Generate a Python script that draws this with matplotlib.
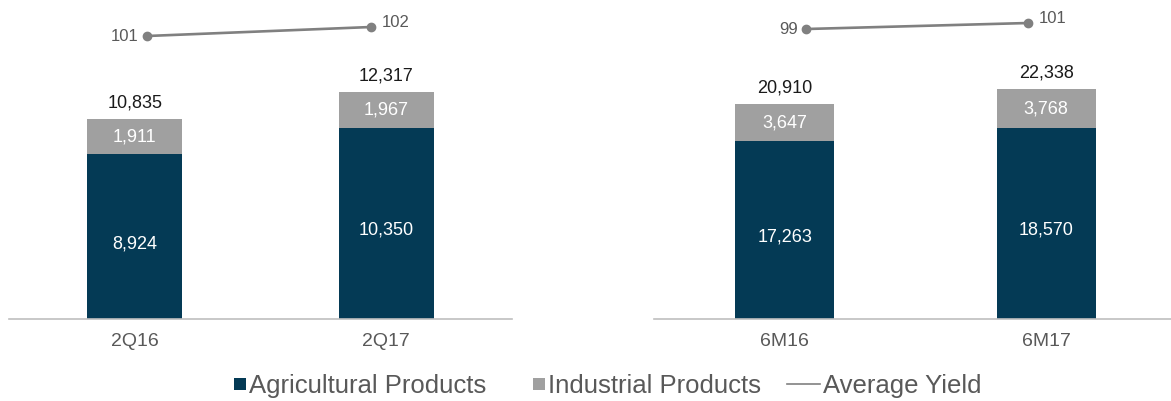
import numpy as np
import matplotlib.pyplot as plt
from matplotlib.patches import Patch, Rectangle
from matplotlib.lines import Line2D
from matplotlib.legend_handler import HandlerPatch

plt.rcParams['font.family'] = ['Liberation Sans', 'DejaVu Sans']

# data
quarters = ['2Q16', '2Q17']
agri_q = [8924, 10350]
indus_q = [1911, 1967]
yield_q = [101, 102]

halves = ['6M16', '6M17']
agri_h = [17263, 18570]
indus_h = [3647, 3768]
yield_h = [99, 101]

NAVY = '#043A55'
GREY = '#A0A0A0'
LINE = '#808080'
TXT = '#595959'

W, H = 1171, 401
fig = plt.figure(figsize=(W / 100, H / 100), dpi=100)


def panel(left, width, cats, agri, indus, yld, ymax, ylim2, xlim2):
    rect = [left / W, 82 / H, width / W, 319 / H]
    ax = fig.add_axes(rect)
    x = np.arange(len(cats))
    bw = 0.377
    ax.bar(x, agri, width=bw, color=NAVY, zorder=2)
    ax.bar(x, indus, bottom=agri, width=bw, color=GREY, zorder=2)
    ax.set_xlim(-0.5, len(cats) - 0.5)
    ax.set_ylim(0, ymax)
    for s in ['top', 'left', 'right']:
        ax.spines[s].set_visible(False)
    ax.spines['bottom'].set_color('#BFBFBF')
    ax.spines['bottom'].set_linewidth(1.2)
    ax.set_yticks([])
    ax.set_xticks(x)
    ax.set_xticklabels(cats, fontsize=14, color=TXT)
    ax.tick_params(axis='x', length=0, pad=10)
    for xi, a, i in zip(x, agri, indus):
        ax.annotate(f'{a:,}', (xi, a / 2), xytext=(0, -5), textcoords='offset points',
                    ha='center', va='center', color='white', fontsize=13)
        ax.annotate(f'{i:,}', (xi, a + i / 2), xytext=(0, 0), textcoords='offset points',
                    ha='center', va='center', color='white', fontsize=13)
        ax.annotate(f'{a + i:,}', (xi, a + i), xytext=(0, 11.5), textcoords='offset points',
                    ha='center', va='center', color='#1A1A1A', fontsize=13)

    # yield line on its own overlay axes
    ax2 = fig.add_axes(rect, frameon=False)
    ax2.set_xlim(*xlim2)
    ax2.set_ylim(*ylim2)
    ax2.axis('off')
    ax2.plot([0, 1], yld, color=LINE, lw=1.9, marker='o', markersize=6, clip_on=False)
    ax2.annotate(f'{yld[0]}', (0, yld[0]), xytext=(-6, 0), textcoords='offset points',
                 ha='right', va='center', color=TXT, fontsize=12)
    ax2.annotate(f'{yld[1]}', (1, yld[1]), xytext=(8, 3.5), textcoords='offset points',
                 ha='left', va='center', color=TXT, fontsize=12)
    return ax


panel(9, 503, quarters, agri_q, indus_q, yield_q, 17290, (69.56, 105), (-0.616, 1.629))
panel(654, 523, halves, agri_h, indus_h, yield_h, 31000, (2.33, 108.67), (-0.685, 1.671))


class SquareHandler(HandlerPatch):
    def create_artists(self, legend, orig_handle, xdescent, ydescent, width, height,
                       fontsize, trans):
        s = 0.47 * fontsize
        r = Rectangle((-xdescent + width - s, -ydescent + (height - s) / 2), s, s,
                      facecolor=orig_handle.get_facecolor(), edgecolor='none',
                      transform=trans)
        return [r]


handles = [Patch(color=NAVY), Patch(color=GREY), Line2D([], [], color=LINE, lw=1.2)]
labels = ['Agricultural Products', 'Industrial Products', 'Average Yield']
leg = fig.legend(handles, labels, loc='center', bbox_to_anchor=(597 / W, 15 / H),
                 ncol=3, frameon=False, fontsize=18.5, handlelength=1.3,
                 handletextpad=0.1, columnspacing=1.0, labelcolor=TXT,
                 handler_map={Patch: SquareHandler()})

fig.savefig('out.png', dpi=100)
